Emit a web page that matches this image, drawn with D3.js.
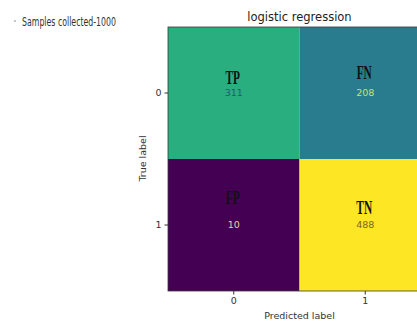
<!DOCTYPE html>
<html>
<head>
<meta charset="utf-8">
<script src="https://cdn.jsdelivr.net/npm/d3@7/dist/d3.min.js"></script>
<style>
  html, body { margin: 0; padding: 0; background: #fff; overflow: hidden; }
  svg { display: block; }
</style>
</head>
<body>
<svg id="chart" width="417" height="323"></svg>
<script>
// Confusion matrix for the logistic regression classifier
const trueLabels = ["0", "1"];
const predictedLabels = ["0", "1"];
const counts = [
  [311, 208],
  [10, 488]
];
const cellNames = [
  ["TP", "FN"],
  ["FP", "TN"]
];
const countColors = [
  ["#24587a", "#c8e16c"],
  ["#f3c9a2", "#7a6628"]
];
const sampleNote = "Samples collected-1000";
const title = "logistic regression";

// vertical offset of each cell name above the count (px)
const nameLift = [
  [16, 21],
  [28, 18]
];

const svg = d3.select("#chart");
const plotLeft = 168, plotTop = 27, cell = 131.5;

const x = d3.scaleBand().domain(predictedLabels).range([plotLeft, plotLeft + cell * 2]);
const y = d3.scaleBand().domain(trueLabels).range([plotTop, plotTop + cell * 2 + 1]);

const flat = counts.flat();
const color = d3.scaleSequential(d3.interpolateViridis)
  .domain([d3.min(flat), d3.max(flat)]);

const cells = [];
trueLabels.forEach((t, i) => predictedLabels.forEach((p, j) => {
  cells.push({ t, p, v: counts[i][j], name: cellNames[i][j], c: countColors[i][j], lift: nameLift[i][j] });
}));

svg.append("g").selectAll("rect").data(cells).join("rect")
  .attr("x", d => x(d.p))
  .attr("y", d => y(d.t))
  .attr("width", x.bandwidth())
  .attr("height", y.bandwidth())
  .attr("fill", d => color(d.v));

// frame
svg.append("rect")
  .attr("x", plotLeft).attr("y", plotTop)
  .attr("width", cell * 2).attr("height", y.range()[1] - plotTop)
  .attr("fill", "none").attr("stroke", "#3a3a3a").attr("stroke-width", 0.8);

// counts
svg.append("g").selectAll("text").data(cells).join("text")
  .attr("x", d => x(d.p) + x.bandwidth() / 2)
  .attr("y", d => y(d.t) + y.bandwidth() / 2)
  .attr("dy", "0.35em")
  .attr("text-anchor", "middle")
  .attr("font-family", "DejaVu Sans")
  .attr("font-size", 9.5)
  .attr("fill", d => d.c)
  .text(d => d.v);

// cell names
svg.append("g").selectAll("text").data(cells).join("text")
  .attr("transform", d => `translate(${x(d.p) + x.bandwidth() / 2 - 1},${y(d.t) + y.bandwidth() / 2 - d.lift + 7}) scale(0.6,1)`)
  .attr("text-anchor", "middle")
  .attr("font-family", "Liberation Serif")
  .attr("font-weight", "bold")
  .attr("font-size", 19)
  .attr("fill", "#111")
  .text(d => d.name);

// axes
const axisFont = g => g.selectAll("text")
  .attr("font-family", "DejaVu Sans").attr("font-size", 9.5).attr("fill", "#333");

svg.append("g")
  .attr("transform", `translate(${plotLeft},0)`)
  .call(d3.axisLeft(y).tickSize(3.5).tickPadding(3))
  .call(g => g.select(".domain").remove())
  .call(g => g.selectAll("line").attr("stroke", "#333"))
  .call(axisFont);

svg.append("g")
  .attr("transform", `translate(0,${y.range()[1]})`)
  .call(d3.axisBottom(x).tickSize(3.5).tickPadding(3))
  .call(g => g.select(".domain").remove())
  .call(g => g.selectAll("line").attr("stroke", "#333"))
  .call(axisFont);

svg.append("text")
  .attr("transform", `translate(146,${plotTop + cell}) rotate(-90)`)
  .attr("text-anchor", "middle")
  .attr("font-family", "DejaVu Sans").attr("font-size", 9.5).attr("fill", "#333")
  .text("True label");

svg.append("text")
  .attr("x", plotLeft + cell).attr("y", 319)
  .attr("text-anchor", "middle")
  .attr("font-family", "DejaVu Sans").attr("font-size", 9.5).attr("fill", "#333")
  .text("Predicted label");

svg.append("text")
  .attr("x", plotLeft + cell).attr("y", 21)
  .attr("text-anchor", "middle")
  .attr("font-family", "DejaVu Sans").attr("font-size", 11.5).attr("fill", "#222")
  .text(title);

// note in the top-left corner
svg.append("circle").attr("cx", 15).attr("cy", 21).attr("r", 0.9).attr("fill", "#aaa");
svg.append("text")
  .attr("x", 22).attr("y", 26)
  .attr("font-family", "Liberation Sans Narrow, DejaVu Sans Condensed")
  .attr("font-size", 13)
  .attr("textLength", 94)
  .attr("lengthAdjust", "spacingAndGlyphs")
  .attr("fill", "#333")
  .text(sampleNote);
</script>
</body>
</html>
